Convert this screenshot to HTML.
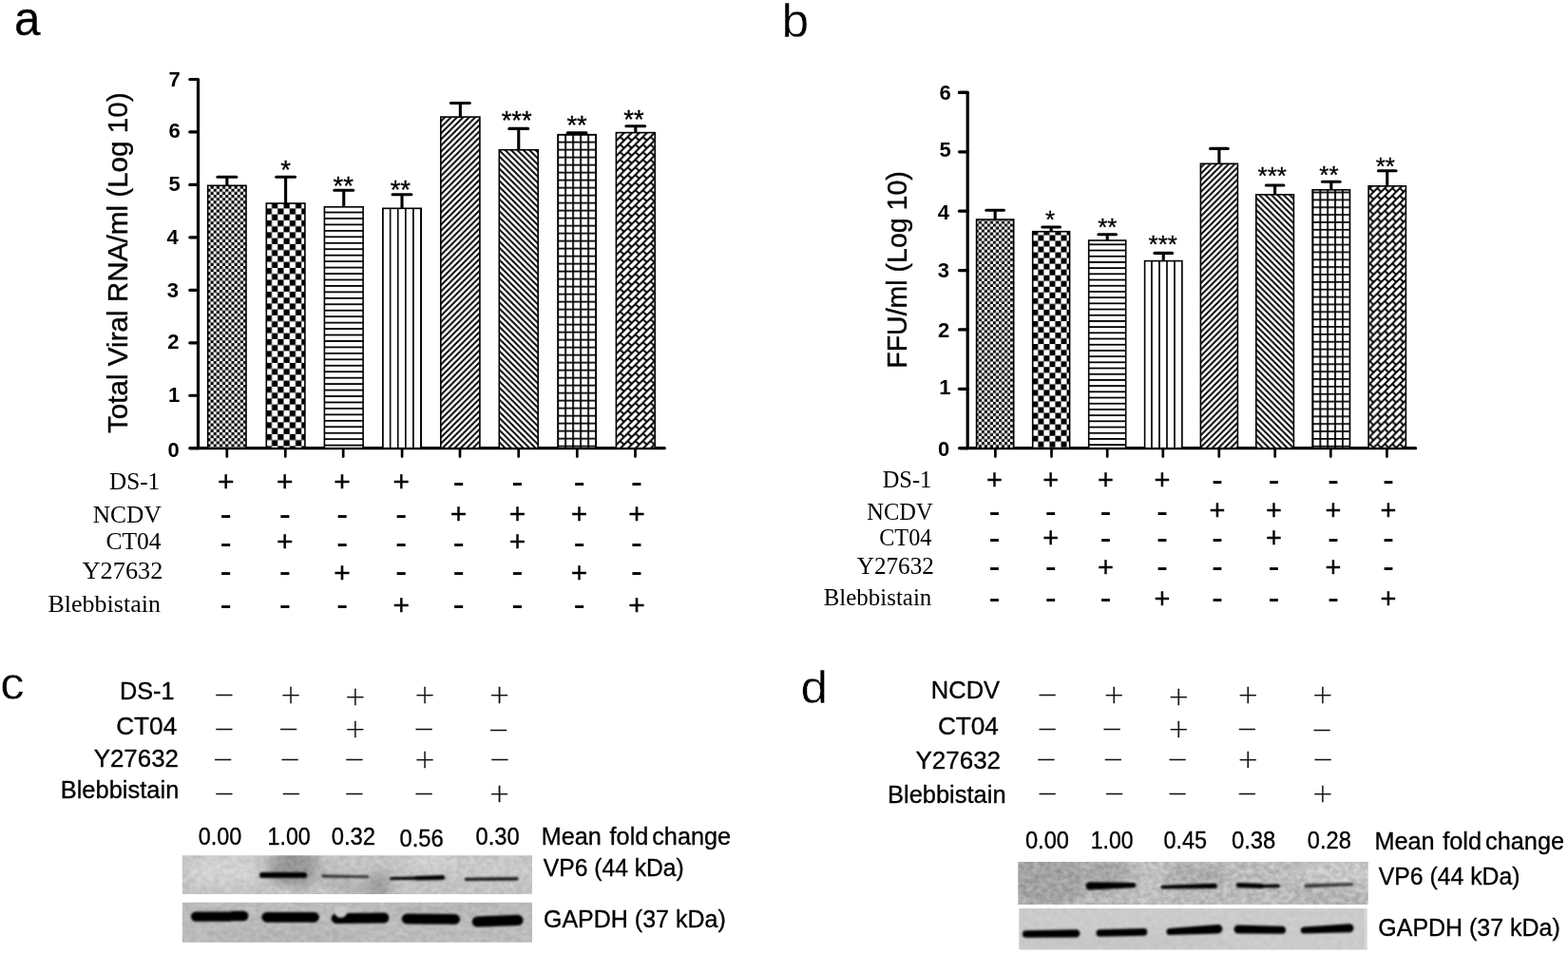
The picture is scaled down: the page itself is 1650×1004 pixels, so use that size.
<!DOCTYPE html>
<html lang="en"><head><meta charset="utf-8"><title>Figure</title>
<style>
html,body{margin:0;padding:0;background:#fff;}
body{width:1650px;height:1004px;overflow:hidden;}
svg{display:block;}
.ax{stroke:#000;stroke-width:3.2;fill:none;}
.xt{stroke:#000;stroke-width:2.7;fill:none;}
.eb{stroke:#000;stroke-width:3.1;fill:none;}
.sa{font-family:"Liberation Sans",Arial,Helvetica,sans-serif;fill:#000;}
.hv{stroke:#000;stroke-width:0.35px;}
.sb{font-family:"Liberation Sans",Arial,Helvetica,sans-serif;font-weight:bold;fill:#000;}
.se{font-family:"Liberation Serif","Times New Roman",Times,serif;fill:#000;}
.li{font-family:"DejaVu Sans Light","DejaVu Sans","Liberation Sans",sans-serif;font-weight:200;fill:#111;}
</style></head><body>
<svg width="1650" height="1004" viewBox="0 0 1650 1004">
<defs>
<pattern id="p1" x="-0.3" y="-1.3" width="6.25" height="6.25" patternUnits="userSpaceOnUse"><rect width="6.25" height="6.25" fill="#fff"/><rect width="3.12" height="3.12" fill="#000"/><rect x="3.12" y="3.12" width="3.12" height="3.12" fill="#000"/></pattern>
<pattern id="p2" x="4.75" y="6.9" width="12.5" height="12.5" patternUnits="userSpaceOnUse"><rect width="12.5" height="12.5" fill="#fff"/><rect width="6.25" height="6.25" fill="#000"/><rect x="6.25" y="6.25" width="6.25" height="6.25" fill="#000"/></pattern>
<pattern id="p3" x="0" y="3.3" width="10" height="6.45" patternUnits="userSpaceOnUse"><rect width="10" height="6.45" fill="#fff"/><rect width="10" height="1.8" fill="#000"/></pattern>
<pattern id="p4" x="4.8" y="0" width="8.1" height="10" patternUnits="userSpaceOnUse"><rect width="8.1" height="10" fill="#fff"/><rect width="1.6" height="10" fill="#000"/></pattern>
<pattern id="p5" x="2.8" y="0" width="6.4" height="6.4" patternUnits="userSpaceOnUse"><rect width="6.4" height="6.4" fill="#fff"/><path d="M-6.4 6.4L6.4 -6.4M-1 7.4L7.4 -1M0 12.8L12.8 0" stroke="#000" stroke-width="1.95"/></pattern>
<pattern id="p6" x="2.4" y="0" width="6.4" height="6.4" patternUnits="userSpaceOnUse"><rect width="6.4" height="6.4" fill="#fff"/><path d="M-1 -1L7.4 7.4M0 -6.4L12.8 6.4M-6.4 0L6.4 12.8" stroke="#000" stroke-width="1.95"/></pattern>
<pattern id="p7" x="2.2" y="4.7" width="8" height="8" patternUnits="userSpaceOnUse"><rect width="8" height="8" fill="#fff"/><path d="M0 0.9H8M0.9 0V8" stroke="#000" stroke-width="1.8"/></pattern>
<pattern id="p8" x="4.6" y="0" width="8" height="8" patternUnits="userSpaceOnUse"><rect width="8" height="8" fill="#fff"/><path d="M-1 9L9 -1M-1 1L1 -1M7 9L9 7" stroke="#000" stroke-width="1.95"/><path d="M0 0L4 4M8 8L12 12" stroke="#000" stroke-width="1.9"/></pattern>
<pattern id="q1" x="0" y="0" width="6.04" height="6.04" patternUnits="userSpaceOnUse"><rect width="6.04" height="6.04" fill="#fff"/><rect width="3.02" height="3.02" fill="#000"/><rect x="3.02" y="3.02" width="3.02" height="3.02" fill="#000"/></pattern>
<pattern id="q2" x="0" y="0" width="12.07" height="12.07" patternUnits="userSpaceOnUse"><rect width="12.07" height="12.07" fill="#fff"/><rect width="6.04" height="6.04" fill="#000"/><rect x="6.04" y="6.04" width="6.04" height="6.04" fill="#000"/></pattern>
<pattern id="q3" x="0" y="2.23" width="10" height="6.2" patternUnits="userSpaceOnUse"><rect width="10" height="6.2" fill="#fff"/><rect width="10" height="1.8" fill="#000"/></pattern>
<pattern id="q4" x="0.13" y="0" width="8.02" height="10" patternUnits="userSpaceOnUse"><rect width="8.02" height="10" fill="#fff"/><rect width="1.6" height="10" fill="#000"/></pattern>
<pattern id="q5" x="0" y="0" width="6.4" height="6.4" patternUnits="userSpaceOnUse"><rect width="6.4" height="6.4" fill="#fff"/><path d="M-6.4 6.4L6.4 -6.4M-1 7.4L7.4 -1M0 12.8L12.8 0" stroke="#000" stroke-width="1.95"/></pattern>
<pattern id="q6" x="0" y="0" width="6.4" height="6.4" patternUnits="userSpaceOnUse"><rect width="6.4" height="6.4" fill="#fff"/><path d="M-1 -1L7.4 7.4M0 -6.4L12.8 6.4M-6.4 0L6.4 12.8" stroke="#000" stroke-width="1.95"/></pattern>
<pattern id="q7" x="5.04" y="5.1" width="7.86" height="7.86" patternUnits="userSpaceOnUse"><rect width="7.86" height="7.86" fill="#fff"/><path d="M0 0.9H7.86M0.9 0V7.86" stroke="#000" stroke-width="1.8"/></pattern>
<pattern id="q8" x="0" y="0" width="7.92" height="7.92" patternUnits="userSpaceOnUse"><rect width="7.92" height="7.92" fill="#fff"/><path d="M-1 8.92L8.92 -1M-1 1L1 -1M6.92 8.92L8.92 6.92" stroke="#000" stroke-width="1.95"/><path d="M0 0L3.96 3.96M7.92 7.92L11.88 11.88" stroke="#000" stroke-width="1.9"/></pattern>
<filter id="b1" x="-20%" y="-100%" width="140%" height="300%"><feGaussianBlur stdDeviation="0.9"/></filter>
<filter id="b8" x="-50%" y="-50%" width="200%" height="200%"><feGaussianBlur stdDeviation="6"/></filter>
<clipPath id="c1"><rect x="191.9" y="900.2" width="368.1" height="40.9"/></clipPath>
<filter id="nz1" filterUnits="userSpaceOnUse" x="189.9" y="898.2" width="372.1" height="44.9" color-interpolation-filters="sRGB"><feTurbulence type="fractalNoise" baseFrequency="0.16 0.2" numOctaves="3" seed="4" result="n"/><feColorMatrix in="n" type="matrix" values="1.6 0 0 0 -0.3 1.6 0 0 0 -0.3 1.6 0 0 0 -0.3 0 0 0 0 1" result="g"/><feComposite in="SourceGraphic" in2="g" operator="arithmetic" k1="0" k2="1" k3="0.09" k4="-0.045"/></filter>
<clipPath id="c2"><rect x="191.9" y="949.8" width="368.1" height="41.9"/></clipPath>
<filter id="nz2" filterUnits="userSpaceOnUse" x="189.9" y="947.8" width="372.1" height="45.9" color-interpolation-filters="sRGB"><feTurbulence type="fractalNoise" baseFrequency="0.16 0.2" numOctaves="3" seed="5" result="n"/><feColorMatrix in="n" type="matrix" values="1.6 0 0 0 -0.3 1.6 0 0 0 -0.3 1.6 0 0 0 -0.3 0 0 0 0 1" result="g"/><feComposite in="SourceGraphic" in2="g" operator="arithmetic" k1="0" k2="1" k3="0.08" k4="-0.04"/></filter>
<clipPath id="c3"><rect x="1071.3" y="907" width="368.4" height="44.9"/></clipPath>
<filter id="nz3" filterUnits="userSpaceOnUse" x="1069.3" y="905" width="372.4" height="48.9" color-interpolation-filters="sRGB"><feTurbulence type="fractalNoise" baseFrequency="0.16 0.2" numOctaves="3" seed="6" result="n"/><feColorMatrix in="n" type="matrix" values="1.6 0 0 0 -0.3 1.6 0 0 0 -0.3 1.6 0 0 0 -0.3 0 0 0 0 1" result="g"/><feComposite in="SourceGraphic" in2="g" operator="arithmetic" k1="0" k2="1" k3="0.15" k4="-0.075"/></filter>
<clipPath id="c4"><rect x="1072.3" y="956" width="366.2" height="43.6"/></clipPath>
<filter id="nz4" filterUnits="userSpaceOnUse" x="1070.3" y="954" width="370.2" height="47.6" color-interpolation-filters="sRGB"><feTurbulence type="fractalNoise" baseFrequency="0.16 0.2" numOctaves="3" seed="7" result="n"/><feColorMatrix in="n" type="matrix" values="1.6 0 0 0 -0.3 1.6 0 0 0 -0.3 1.6 0 0 0 -0.3 0 0 0 0 1" result="g"/><feComposite in="SourceGraphic" in2="g" operator="arithmetic" k1="0" k2="1" k3="0.04" k4="-0.02"/></filter>
</defs>
<rect width="1650" height="1004" fill="#fff"/>

<text x="14.9" y="37" class="sa" font-size="49.3" stroke="#000" stroke-width="0.3">a</text>
<text transform="translate(822.55 38.6) scale(1.0458 1)" class="sa" font-size="49.3" stroke="#fff" stroke-width="0.4">b</text>
<text transform="translate(0.25 736.2) scale(1.0432 1)" class="sa" font-size="48.6" stroke="#fff" stroke-width="0.4">c</text>
<text transform="translate(842.62 740) scale(1.0476 1)" class="sa" font-size="49" stroke="#fff" stroke-width="0.4">d</text>
<g id="panel-a">
<path d="M199.8 83.5H208.5V471.7" class="ax" stroke-linejoin="round" stroke-linecap="round"/>
<line x1="200.7" y1="471.7" x2="699.3" y2="471.7" class="ax" stroke-linecap="round"/>
<line x1="199.8" y1="138.96" x2="208.5" y2="138.96" class="ax" stroke-linecap="round"/>
<line x1="199.8" y1="194.41" x2="208.5" y2="194.41" class="ax" stroke-linecap="round"/>
<line x1="199.8" y1="249.87" x2="208.5" y2="249.87" class="ax" stroke-linecap="round"/>
<line x1="199.8" y1="305.33" x2="208.5" y2="305.33" class="ax" stroke-linecap="round"/>
<line x1="199.8" y1="360.79" x2="208.5" y2="360.79" class="ax" stroke-linecap="round"/>
<line x1="199.8" y1="416.24" x2="208.5" y2="416.24" class="ax" stroke-linecap="round"/>
<line x1="199.8" y1="471.7" x2="208.5" y2="471.7" class="ax" stroke-linecap="round"/>
<text x="177.53" y="90.86" class="sb" font-size="22">7</text>
<text x="177.56" y="144.96" class="sb" font-size="22">6</text>
<text x="177.4" y="201.35" class="sb" font-size="22">5</text>
<text x="175.4" y="256.76" class="sb" font-size="22">4</text>
<text x="175.86" y="312.64" class="sb" font-size="22">3</text>
<text x="176.17" y="367.17" class="sb" font-size="22">2</text>
<text x="177.09" y="423.26" class="sb" font-size="22">1</text>
<text x="176.47" y="480.56" class="sb" font-size="22">0</text>
<line x1="238.8" y1="471.7" x2="238.8" y2="480.6" class="xt" stroke-linecap="round"/>
<rect x="218.7" y="195.3" width="40.3" height="276.4" fill="url(#p1)" stroke="#000" stroke-width="1.6"/>
<line x1="238.85" y1="186.2" x2="238.85" y2="195.5" class="eb"/>
<line x1="228.95" y1="186.2" x2="248.75" y2="186.2" class="eb" stroke-linecap="round"/>
<line x1="300.3" y1="471.7" x2="300.3" y2="480.6" class="xt" stroke-linecap="round"/>
<rect x="280.3" y="214" width="40.6" height="257.7" fill="url(#p2)" stroke="#000" stroke-width="1.6"/>
<line x1="300.6" y1="186.2" x2="300.6" y2="214.2" class="eb"/>
<line x1="290.7" y1="186.2" x2="310.5" y2="186.2" class="eb" stroke-linecap="round"/>
<line x1="361.2" y1="471.7" x2="361.2" y2="480.6" class="xt" stroke-linecap="round"/>
<rect x="341.4" y="217.8" width="40.7" height="253.9" fill="url(#p3)" stroke="#000" stroke-width="1.6"/>
<line x1="361.75" y1="200.2" x2="361.75" y2="218" class="eb"/>
<line x1="351.85" y1="200.2" x2="371.65" y2="200.2" class="eb" stroke-linecap="round"/>
<line x1="423.1" y1="471.7" x2="423.1" y2="480.6" class="xt" stroke-linecap="round"/>
<rect x="402.8" y="219.3" width="40.4" height="252.4" fill="url(#p4)" stroke="#000" stroke-width="1.6"/>
<line x1="423" y1="204.7" x2="423" y2="219.5" class="eb"/>
<line x1="413.1" y1="204.7" x2="432.9" y2="204.7" class="eb" stroke-linecap="round"/>
<line x1="484" y1="471.7" x2="484" y2="480.6" class="xt" stroke-linecap="round"/>
<rect x="463.8" y="123.1" width="41.1" height="348.6" fill="url(#p5)" stroke="#000" stroke-width="1.6"/>
<line x1="484.35" y1="108.5" x2="484.35" y2="123.3" class="eb"/>
<line x1="474.45" y1="108.5" x2="494.25" y2="108.5" class="eb" stroke-linecap="round"/>
<line x1="545.7" y1="471.7" x2="545.7" y2="480.6" class="xt" stroke-linecap="round"/>
<rect x="525.3" y="157.7" width="40.9" height="314" fill="url(#p6)" stroke="#000" stroke-width="1.6"/>
<line x1="545.75" y1="135.4" x2="545.75" y2="157.9" class="eb"/>
<line x1="535.85" y1="135.4" x2="555.65" y2="135.4" class="eb" stroke-linecap="round"/>
<line x1="607.3" y1="471.7" x2="607.3" y2="480.6" class="xt" stroke-linecap="round"/>
<rect x="587" y="141.7" width="40.2" height="330" fill="url(#p7)" stroke="#000" stroke-width="1.6"/>
<line x1="607.1" y1="139.9" x2="607.1" y2="141.9" class="eb"/>
<line x1="597.2" y1="139.9" x2="617" y2="139.9" class="eb" stroke-linecap="round"/>
<line x1="668.5" y1="471.7" x2="668.5" y2="480.6" class="xt" stroke-linecap="round"/>
<rect x="648.4" y="139.6" width="40.8" height="332.1" fill="url(#p8)" stroke="#000" stroke-width="1.6"/>
<line x1="668.8" y1="132.7" x2="668.8" y2="139.8" class="eb"/>
<line x1="658.9" y1="132.7" x2="678.7" y2="132.7" class="eb" stroke-linecap="round"/>
<text x="295.34" y="187.79" class="sa" font-size="27.5" stroke="#000" stroke-width="0.3">*</text>
<text x="350.47" y="205.19" class="sa" font-size="27.5" stroke="#000" stroke-width="0.3">**</text>
<text x="410.67" y="208.59" class="sa" font-size="27.5" stroke="#000" stroke-width="0.3">**</text>
<text x="527.65" y="136.49" class="sa" font-size="27.5" stroke="#000" stroke-width="0.3">***</text>
<text x="596.38" y="140.89" class="sa" font-size="27.5" stroke="#000" stroke-width="0.3">**</text>
<text x="656.27" y="134.69" class="sa" font-size="27.5" stroke="#000" stroke-width="0.3">**</text>
<text transform="translate(134.2 456.07) rotate(-90) scale(0.9887 1)" class="sa" font-size="30" stroke="#000" stroke-width="0.35">Total Viral RNA/ml (Log 10)</text>
<text transform="translate(115.04 514.7) scale(0.9680 1)" class="se" font-size="26" >DS-1</text>
<text x="228.92" y="516.58" class="sa" font-size="30" stroke="#000" stroke-width="0.35">+</text>
<text x="291.12" y="516.58" class="sa" font-size="30" stroke="#000" stroke-width="0.35">+</text>
<text x="351.33" y="516.58" class="sa" font-size="30" stroke="#000" stroke-width="0.35">+</text>
<text x="413.43" y="516.58" class="sa" font-size="30" stroke="#000" stroke-width="0.35">+</text>
<text x="476.45" y="519.45" class="sa" font-size="37" >-</text>
<text x="538.35" y="519.45" class="sa" font-size="37" >-</text>
<text x="603.45" y="519.45" class="sa" font-size="37" >-</text>
<text x="663.85" y="519.45" class="sa" font-size="37" >-</text>
<text transform="translate(97.74 549.6) scale(0.9779 1)" class="se" font-size="26" >NCDV</text>
<text x="231.55" y="553.25" class="sa" font-size="37" >-</text>
<text x="293.75" y="553.25" class="sa" font-size="37" >-</text>
<text x="353.95" y="553.25" class="sa" font-size="37" >-</text>
<text x="416.05" y="553.25" class="sa" font-size="37" >-</text>
<text x="473.83" y="550.68" class="sa" font-size="30" stroke="#000" stroke-width="0.35">+</text>
<text x="535.73" y="550.68" class="sa" font-size="30" stroke="#000" stroke-width="0.35">+</text>
<text x="600.83" y="550.68" class="sa" font-size="30" stroke="#000" stroke-width="0.35">+</text>
<text x="661.23" y="550.68" class="sa" font-size="30" stroke="#000" stroke-width="0.35">+</text>
<text transform="translate(111.38 578.3) scale(0.9812 1)" class="se" font-size="26" >CT04</text>
<text x="231.55" y="582.65" class="sa" font-size="37" >-</text>
<text x="291.12" y="579.98" class="sa" font-size="30" stroke="#000" stroke-width="0.35">+</text>
<text x="353.95" y="582.65" class="sa" font-size="37" >-</text>
<text x="416.05" y="582.65" class="sa" font-size="37" >-</text>
<text x="476.45" y="582.65" class="sa" font-size="37" >-</text>
<text x="535.73" y="579.98" class="sa" font-size="30" stroke="#000" stroke-width="0.35">+</text>
<text x="603.45" y="582.65" class="sa" font-size="37" >-</text>
<text x="663.85" y="582.65" class="sa" font-size="37" >-</text>
<text transform="translate(86.57 608.9) scale(1.0130 1)" class="se" font-size="26" >Y27632</text>
<text x="231.55" y="613.45" class="sa" font-size="37" >-</text>
<text x="293.75" y="613.45" class="sa" font-size="37" >-</text>
<text x="351.33" y="612.58" class="sa" font-size="30" stroke="#000" stroke-width="0.35">+</text>
<text x="416.05" y="613.45" class="sa" font-size="37" >-</text>
<text x="476.45" y="613.45" class="sa" font-size="37" >-</text>
<text x="538.35" y="613.45" class="sa" font-size="37" >-</text>
<text x="600.83" y="612.58" class="sa" font-size="30" stroke="#000" stroke-width="0.35">+</text>
<text x="663.85" y="613.45" class="sa" font-size="37" >-</text>
<text x="50.52" y="643.8" class="se" font-size="26" >Blebbistain</text>
<text x="231.55" y="647.75" class="sa" font-size="37" >-</text>
<text x="293.75" y="647.75" class="sa" font-size="37" >-</text>
<text x="353.95" y="647.75" class="sa" font-size="37" >-</text>
<text x="413.43" y="646.77" class="sa" font-size="30" stroke="#000" stroke-width="0.35">+</text>
<text x="476.45" y="647.75" class="sa" font-size="37" >-</text>
<text x="538.35" y="647.75" class="sa" font-size="37" >-</text>
<text x="603.45" y="647.75" class="sa" font-size="37" >-</text>
<text x="661.23" y="646.77" class="sa" font-size="30" stroke="#000" stroke-width="0.35">+</text>
</g>
<g id="panel-b">
<path d="M1009.5 97.4H1018.2V471.7" class="ax" stroke-linejoin="round" stroke-linecap="round"/>
<line x1="1010.5" y1="471.7" x2="1489.6" y2="471.7" class="ax" stroke-linecap="round"/>
<line x1="1009.5" y1="97.4" x2="1018.2" y2="97.4" class="ax" stroke-linecap="round"/>
<line x1="1009.5" y1="159.78" x2="1018.2" y2="159.78" class="ax" stroke-linecap="round"/>
<line x1="1009.5" y1="222.17" x2="1018.2" y2="222.17" class="ax" stroke-linecap="round"/>
<line x1="1009.5" y1="284.55" x2="1018.2" y2="284.55" class="ax" stroke-linecap="round"/>
<line x1="1009.5" y1="346.93" x2="1018.2" y2="346.93" class="ax" stroke-linecap="round"/>
<line x1="1009.5" y1="409.32" x2="1018.2" y2="409.32" class="ax" stroke-linecap="round"/>
<line x1="1009.5" y1="471.7" x2="1018.2" y2="471.7" class="ax" stroke-linecap="round"/>
<text x="988.56" y="105.16" class="sb" font-size="22">6</text>
<text x="988.39" y="165.05" class="sb" font-size="22">5</text>
<text x="986.8" y="231.36" class="sb" font-size="22">4</text>
<text x="986.86" y="291.84" class="sb" font-size="22">3</text>
<text x="986.97" y="354.67" class="sb" font-size="22">2</text>
<text x="988.29" y="414.86" class="sb" font-size="22">1</text>
<text x="987.07" y="480.26" class="sb" font-size="22">0</text>
<line x1="1047.4" y1="471.7" x2="1047.4" y2="480.6" class="xt" stroke-linecap="round"/>
<rect x="1027.6" y="231" width="39.1" height="240.7" fill="url(#q1)" stroke="#000" stroke-width="1.6"/>
<line x1="1047.15" y1="221.3" x2="1047.15" y2="231.2" class="eb"/>
<line x1="1037.85" y1="221.3" x2="1056.45" y2="221.3" class="eb" stroke-linecap="round"/>
<line x1="1106.5" y1="471.7" x2="1106.5" y2="480.6" class="xt" stroke-linecap="round"/>
<rect x="1086.7" y="243.7" width="38.9" height="228" fill="url(#q2)" stroke="#000" stroke-width="1.6"/>
<line x1="1106.15" y1="239" x2="1106.15" y2="243.9" class="eb"/>
<line x1="1096.85" y1="239" x2="1115.45" y2="239" class="eb" stroke-linecap="round"/>
<line x1="1165.2" y1="471.7" x2="1165.2" y2="480.6" class="xt" stroke-linecap="round"/>
<rect x="1145.7" y="253" width="39" height="218.7" fill="url(#q3)" stroke="#000" stroke-width="1.6"/>
<line x1="1165.2" y1="246.7" x2="1165.2" y2="253.2" class="eb"/>
<line x1="1155.9" y1="246.7" x2="1174.5" y2="246.7" class="eb" stroke-linecap="round"/>
<line x1="1223.8" y1="471.7" x2="1223.8" y2="480.6" class="xt" stroke-linecap="round"/>
<rect x="1204.6" y="274.6" width="39.3" height="197.1" fill="url(#q4)" stroke="#000" stroke-width="1.6"/>
<line x1="1224.25" y1="266.4" x2="1224.25" y2="274.8" class="eb"/>
<line x1="1214.95" y1="266.4" x2="1233.55" y2="266.4" class="eb" stroke-linecap="round"/>
<line x1="1282.8" y1="471.7" x2="1282.8" y2="480.6" class="xt" stroke-linecap="round"/>
<rect x="1263.4" y="172.3" width="39" height="299.4" fill="url(#q5)" stroke="#000" stroke-width="1.6"/>
<line x1="1282.9" y1="156.4" x2="1282.9" y2="172.5" class="eb"/>
<line x1="1273.6" y1="156.4" x2="1292.2" y2="156.4" class="eb" stroke-linecap="round"/>
<line x1="1341.7" y1="471.7" x2="1341.7" y2="480.6" class="xt" stroke-linecap="round"/>
<rect x="1321.8" y="204.8" width="39.6" height="266.9" fill="url(#q6)" stroke="#000" stroke-width="1.6"/>
<line x1="1341.6" y1="195" x2="1341.6" y2="205" class="eb"/>
<line x1="1332.3" y1="195" x2="1350.9" y2="195" class="eb" stroke-linecap="round"/>
<line x1="1400.3" y1="471.7" x2="1400.3" y2="480.6" class="xt" stroke-linecap="round"/>
<rect x="1381.1" y="199.8" width="39.4" height="271.9" fill="url(#q7)" stroke="#000" stroke-width="1.6"/>
<line x1="1400.8" y1="191.3" x2="1400.8" y2="200" class="eb"/>
<line x1="1391.5" y1="191.3" x2="1410.1" y2="191.3" class="eb" stroke-linecap="round"/>
<line x1="1459.4" y1="471.7" x2="1459.4" y2="480.6" class="xt" stroke-linecap="round"/>
<rect x="1440.1" y="195.8" width="39.3" height="275.9" fill="url(#q8)" stroke="#000" stroke-width="1.6"/>
<line x1="1459.75" y1="179.8" x2="1459.75" y2="196" class="eb"/>
<line x1="1450.45" y1="179.8" x2="1469.05" y2="179.8" class="eb" stroke-linecap="round"/>
<text x="1099.93" y="239.62" class="sa" font-size="26" stroke="#000" stroke-width="0.3">*</text>
<text x="1155.16" y="248.02" class="sa" font-size="26" stroke="#000" stroke-width="0.3">**</text>
<text x="1208.62" y="265.52" class="sa" font-size="26" stroke="#000" stroke-width="0.3">***</text>
<text x="1323.52" y="194.22" class="sa" font-size="26" stroke="#000" stroke-width="0.3">***</text>
<text x="1388.36" y="193.12" class="sa" font-size="26" stroke="#000" stroke-width="0.3">**</text>
<text x="1447.76" y="184.02" class="sa" font-size="26" stroke="#000" stroke-width="0.3">**</text>
<text transform="translate(954.3 387.75) rotate(-90) scale(0.9734 1)" class="sa" font-size="29.3" stroke="#000" stroke-width="0.35">FFU/ml (Log 10)</text>
<text transform="translate(928.67 513.3) scale(0.9654 1)" class="se" font-size="25.3" >DS-1</text>
<text x="1038.02" y="514.84" class="sa" font-size="29" stroke="#000" stroke-width="0.35">+</text>
<text x="1097.22" y="514.84" class="sa" font-size="29" stroke="#000" stroke-width="0.35">+</text>
<text x="1155.12" y="514.84" class="sa" font-size="29" stroke="#000" stroke-width="0.35">+</text>
<text x="1214.62" y="514.84" class="sa" font-size="29" stroke="#000" stroke-width="0.35">+</text>
<text x="1275.12" y="517.49" class="sa" font-size="36" >-</text>
<text x="1334.42" y="517.49" class="sa" font-size="36" >-</text>
<text x="1397.02" y="517.49" class="sa" font-size="36" >-</text>
<text x="1454.92" y="517.49" class="sa" font-size="36" >-</text>
<text transform="translate(912.37 546.5) scale(0.9681 1)" class="se" font-size="25.3" >NCDV</text>
<text x="1040.52" y="550.19" class="sa" font-size="36" >-</text>
<text x="1099.72" y="550.19" class="sa" font-size="36" >-</text>
<text x="1157.62" y="550.19" class="sa" font-size="36" >-</text>
<text x="1217.12" y="550.19" class="sa" font-size="36" >-</text>
<text x="1272.62" y="547.44" class="sa" font-size="29" stroke="#000" stroke-width="0.35">+</text>
<text x="1331.92" y="547.44" class="sa" font-size="29" stroke="#000" stroke-width="0.35">+</text>
<text x="1394.52" y="547.44" class="sa" font-size="29" stroke="#000" stroke-width="0.35">+</text>
<text x="1452.42" y="547.44" class="sa" font-size="29" stroke="#000" stroke-width="0.35">+</text>
<text transform="translate(925.23 574.3) scale(0.9568 1)" class="se" font-size="25.3" >CT04</text>
<text x="1040.52" y="578.19" class="sa" font-size="36" >-</text>
<text x="1097.22" y="575.74" class="sa" font-size="29" stroke="#000" stroke-width="0.35">+</text>
<text x="1157.62" y="578.19" class="sa" font-size="36" >-</text>
<text x="1217.12" y="578.19" class="sa" font-size="36" >-</text>
<text x="1275.12" y="578.19" class="sa" font-size="36" >-</text>
<text x="1331.92" y="575.74" class="sa" font-size="29" stroke="#000" stroke-width="0.35">+</text>
<text x="1397.02" y="578.19" class="sa" font-size="36" >-</text>
<text x="1454.92" y="578.19" class="sa" font-size="36" >-</text>
<text transform="translate(901.69 604.3) scale(0.9960 1)" class="se" font-size="25.3" >Y27632</text>
<text x="1040.52" y="608.29" class="sa" font-size="36" >-</text>
<text x="1099.72" y="608.29" class="sa" font-size="36" >-</text>
<text x="1155.12" y="606.84" class="sa" font-size="29" stroke="#000" stroke-width="0.35">+</text>
<text x="1217.12" y="608.29" class="sa" font-size="36" >-</text>
<text x="1275.12" y="608.29" class="sa" font-size="36" >-</text>
<text x="1334.42" y="608.29" class="sa" font-size="36" >-</text>
<text x="1394.52" y="606.84" class="sa" font-size="29" stroke="#000" stroke-width="0.35">+</text>
<text x="1454.92" y="608.29" class="sa" font-size="36" >-</text>
<text transform="translate(866.65 636.8) scale(0.9868 1)" class="se" font-size="25.3" >Blebbistain</text>
<text x="1040.52" y="640.79" class="sa" font-size="36" >-</text>
<text x="1099.72" y="640.79" class="sa" font-size="36" >-</text>
<text x="1157.62" y="640.79" class="sa" font-size="36" >-</text>
<text x="1214.62" y="639.94" class="sa" font-size="29" stroke="#000" stroke-width="0.35">+</text>
<text x="1275.12" y="640.79" class="sa" font-size="36" >-</text>
<text x="1334.42" y="640.79" class="sa" font-size="36" >-</text>
<text x="1397.02" y="640.79" class="sa" font-size="36" >-</text>
<text x="1452.42" y="639.94" class="sa" font-size="29" stroke="#000" stroke-width="0.35">+</text>
</g>
<g id="panel-c" class="hv">
<text transform="translate(126.01 736) scale(0.9651 1)" class="sa" font-size="26.2" >DS-1</text>
<text x="122.19" y="773.3" class="sa" font-size="26.2" >CT04</text>
<text transform="translate(98.72 806.5) scale(0.9884 1)" class="sa" font-size="26.2" >Y27632</text>
<text transform="translate(63.7 840) scale(0.9730 1)" class="sa" font-size="26.2" >Blebbistain</text>
<text x="224.48" y="740.14" class="li" font-size="27" fill="#111" stroke="#111" stroke-width="0.3">−</text>
<text x="294.74" y="740.11" class="li" font-size="27" fill="#111" stroke="#111" stroke-width="0.3">+</text>
<text x="362.6" y="741.64" class="li" font-size="27" fill="#111" stroke="#111" stroke-width="0.3">+</text>
<text x="435.69" y="740.11" class="li" font-size="27" fill="#111" stroke="#111" stroke-width="0.3">+</text>
<text x="514.24" y="740.11" class="li" font-size="27" fill="#111" stroke="#111" stroke-width="0.3">+</text>
<text x="224.48" y="776.15" class="li" font-size="27" fill="#111" stroke="#111" stroke-width="0.3">−</text>
<text x="292.34" y="776.15" class="li" font-size="27" fill="#111" stroke="#111" stroke-width="0.3">−</text>
<text x="362.6" y="776.11" class="li" font-size="27" fill="#111" stroke="#111" stroke-width="0.3">+</text>
<text x="434.82" y="776.15" class="li" font-size="27" fill="#111" stroke="#111" stroke-width="0.3">−</text>
<text x="513.37" y="777.46" class="li" font-size="27" fill="#111" stroke="#111" stroke-width="0.3">−</text>
<text x="223.17" y="808.22" class="li" font-size="27" fill="#111" stroke="#111" stroke-width="0.3">−</text>
<text x="293.65" y="808.22" class="li" font-size="27" fill="#111" stroke="#111" stroke-width="0.3">−</text>
<text x="361.51" y="808.22" class="li" font-size="27" fill="#111" stroke="#111" stroke-width="0.3">−</text>
<text x="435.69" y="808.19" class="li" font-size="27" fill="#111" stroke="#111" stroke-width="0.3">+</text>
<text x="514.46" y="808.22" class="li" font-size="27" fill="#111" stroke="#111" stroke-width="0.3">−</text>
<text x="224.48" y="844.01" class="li" font-size="27" fill="#111" stroke="#111" stroke-width="0.3">−</text>
<text x="294.96" y="844.01" class="li" font-size="27" fill="#111" stroke="#111" stroke-width="0.3">−</text>
<text x="361.51" y="844.01" class="li" font-size="27" fill="#111" stroke="#111" stroke-width="0.3">−</text>
<text x="434.82" y="844.01" class="li" font-size="27" fill="#111" stroke="#111" stroke-width="0.3">−</text>
<text x="514.24" y="843.97" class="li" font-size="27" fill="#111" stroke="#111" stroke-width="0.3">+</text>
<text transform="translate(208.66 889.3) scale(0.9141 1)" class="sa" font-size="25.6" >0.00</text>
<text transform="translate(281.56 889.3) scale(0.9081 1)" class="sa" font-size="25.6" >1.00</text>
<text transform="translate(348.65 889.3) scale(0.9308 1)" class="sa" font-size="25.6" >0.32</text>
<text transform="translate(420.55 890.7) scale(0.9270 1)" class="sa" font-size="25.6" >0.56</text>
<text transform="translate(500.45 888.9) scale(0.9287 1)" class="sa" font-size="25.6" >0.30</text>
<text transform="translate(0 889.3) scale(0.9644 1)" class="sa" font-size="26.2"><tspan x="590.7">Mean</tspan> <tspan x="665.27">fold</tspan> <tspan x="711.56">change</tspan></text>
<text transform="translate(571.78 922.1) scale(0.9415 1)" class="sa" font-size="26.2" >VP6 (44 kDa)</text>
<text transform="translate(571.95 975.8) scale(0.9548 1)" class="sa" font-size="26.2" >GAPDH (37 kDa)</text>
</g>
<g id="panel-d" class="hv">
<text transform="translate(979.8 734.8) scale(0.9738 1)" class="sa" font-size="26.2" >NCDV</text>
<text x="986.89" y="773.3" class="sa" font-size="26.2" >CT04</text>
<text transform="translate(963.52 809.4) scale(0.9918 1)" class="sa" font-size="26.2" >Y27632</text>
<text transform="translate(934 845.1) scale(0.9722 1)" class="sa" font-size="26.2" >Blebbistain</text>
<text x="1090.78" y="740.14" class="li" font-size="27" fill="#111" stroke="#111" stroke-width="0.3">−</text>
<text x="1161.04" y="740.11" class="li" font-size="27" fill="#111" stroke="#111" stroke-width="0.3">+</text>
<text x="1228.9" y="741.64" class="li" font-size="27" fill="#111" stroke="#111" stroke-width="0.3">+</text>
<text x="1301.99" y="740.11" class="li" font-size="27" fill="#111" stroke="#111" stroke-width="0.3">+</text>
<text x="1380.54" y="740.11" class="li" font-size="27" fill="#111" stroke="#111" stroke-width="0.3">+</text>
<text x="1090.78" y="776.15" class="li" font-size="27" fill="#111" stroke="#111" stroke-width="0.3">−</text>
<text x="1158.64" y="776.15" class="li" font-size="27" fill="#111" stroke="#111" stroke-width="0.3">−</text>
<text x="1228.9" y="776.11" class="li" font-size="27" fill="#111" stroke="#111" stroke-width="0.3">+</text>
<text x="1301.12" y="776.15" class="li" font-size="27" fill="#111" stroke="#111" stroke-width="0.3">−</text>
<text x="1379.67" y="777.46" class="li" font-size="27" fill="#111" stroke="#111" stroke-width="0.3">−</text>
<text x="1089.47" y="808.22" class="li" font-size="27" fill="#111" stroke="#111" stroke-width="0.3">−</text>
<text x="1159.95" y="808.22" class="li" font-size="27" fill="#111" stroke="#111" stroke-width="0.3">−</text>
<text x="1227.81" y="808.22" class="li" font-size="27" fill="#111" stroke="#111" stroke-width="0.3">−</text>
<text x="1301.99" y="808.19" class="li" font-size="27" fill="#111" stroke="#111" stroke-width="0.3">+</text>
<text x="1380.76" y="808.22" class="li" font-size="27" fill="#111" stroke="#111" stroke-width="0.3">−</text>
<text x="1090.78" y="844.01" class="li" font-size="27" fill="#111" stroke="#111" stroke-width="0.3">−</text>
<text x="1161.26" y="844.01" class="li" font-size="27" fill="#111" stroke="#111" stroke-width="0.3">−</text>
<text x="1227.81" y="844.01" class="li" font-size="27" fill="#111" stroke="#111" stroke-width="0.3">−</text>
<text x="1301.12" y="844.01" class="li" font-size="27" fill="#111" stroke="#111" stroke-width="0.3">−</text>
<text x="1380.54" y="843.97" class="li" font-size="27" fill="#111" stroke="#111" stroke-width="0.3">+</text>
<text transform="translate(1078.95 893.2) scale(0.9245 1)" class="sa" font-size="25.6" >0.00</text>
<text transform="translate(1147.78 893.2) scale(0.8974 1)" class="sa" font-size="25.6" >1.00</text>
<text transform="translate(1224.56 893.2) scale(0.9153 1)" class="sa" font-size="25.6" >0.45</text>
<text transform="translate(1295.95 893.2) scale(0.9312 1)" class="sa" font-size="25.6" >0.38</text>
<text transform="translate(1375.86 893.2) scale(0.9228 1)" class="sa" font-size="25.6" >0.28</text>
<text transform="translate(0 894.4) scale(0.9655 1)" class="sa" font-size="26.2"><tspan x="1498.11">Mean</tspan> <tspan x="1572.51">fold</tspan> <tspan x="1618.94">change</tspan></text>
<text transform="translate(1450.78 930.6) scale(0.9460 1)" class="sa" font-size="26.2" >VP6 (44 kDa)</text>
<text transform="translate(1450.35 985) scale(0.9528 1)" class="sa" font-size="26.2" >GAPDH (37 kDa)</text>
</g>
<g id="blots">
<g clip-path="url(#c1)">
<g filter="url(#nz1)">
<rect x="189.9" y="898.2" width="372.1" height="44.9" fill="#c3c3c3"/>
<g filter="url(#b8)"><ellipse cx="236" cy="917" rx="42" ry="16" fill="#d2d2d2"/><ellipse cx="309" cy="912" rx="26" ry="24" fill="#989898"/><ellipse cx="372" cy="934" rx="50" ry="7" fill="#b0b0b0" transform="rotate(18 372 934)"/><ellipse cx="398" cy="931" rx="13" ry="13" fill="#9c9c9c"/><ellipse cx="455" cy="908" rx="30" ry="9" fill="#d0d0d0"/><ellipse cx="520" cy="915" rx="40" ry="14" fill="#c9c9c9"/><ellipse cx="300" cy="940" rx="12" ry="5" fill="#d8d8d8"/></g>
</g>
<g filter="url(#b1)"><path d="M276 917.9L320.2 918A3 3 0 0 1 320.2 924L276 924.1A3.1 3.1 0 0 1 276 917.9Z" fill="#000"/><path d="M339.7 920.6L386.9 921.5A1.3 1.3 0 0 1 386.9 924.1L339.7 923.4A1.4 1.4 0 0 1 339.7 920.6Z" fill="#2a2a2a"/><path d="M411.5 923.1L440.2 922.4A1.8 1.8 0 0 1 440.2 926L411.5 926.1A1.5 1.5 0 0 1 411.5 923.1Z" fill="#000"/><path d="M438.3 921.9L465.7 921.1A2.5 2.5 0 0 1 465.7 926.1L438.3 926.5A2.3 2.3 0 0 1 438.3 921.9Z" fill="#000"/><path d="M490.5 923.7L544.2 923.3A1.6 1.6 0 0 1 544.2 926.5L490.5 927.1A1.7 1.7 0 0 1 490.5 923.7Z" fill="#141414"/></g>
</g>
<g clip-path="url(#c2)">
<g filter="url(#nz2)">
<rect x="189.9" y="947.8" width="372.1" height="45.9" fill="#bbbbbb"/>
<g filter="url(#b8)"><ellipse cx="300" cy="985" rx="80" ry="8" fill="#b4b4b4"/><ellipse cx="470" cy="955" rx="60" ry="5" fill="#b2b2b2"/></g>
</g>
<g filter="url(#b1)"><path d="M206 959.4L241.8 959.4A5.2 5.2 0 0 1 241.8 969.8L206 969.8A5.2 5.2 0 0 1 206 959.4Z" fill="#000"/><path d="M245.3 958.7L256.1 958.7A5.3 5.3 0 0 1 256.1 969.3L245.3 969.3A5.3 5.3 0 0 1 245.3 958.7Z" fill="#000"/><path d="M280.7 959.9L330.5 959.9A5.4 5.4 0 0 1 330.5 970.7L280.7 970.7A5.4 5.4 0 0 1 280.7 959.9Z" fill="#000"/><path d="M353.9 961.3L403.9 960.5A5.5 5.5 0 0 1 403.9 971.5L353.9 971.9A5.3 5.3 0 0 1 353.9 961.3Z" fill="#000"/><path d="M428.1 961.6L478.6 962A5.4 5.4 0 0 1 478.6 972.8L428.1 972.4A5.4 5.4 0 0 1 428.1 961.6Z" fill="#000"/><path d="M502.3 964.4L544.9 962.7A5.7 5.7 0 0 1 544.9 974.1L502.3 975.6A5.6 5.6 0 0 1 502.3 964.4Z" fill="#000"/></g>
<g filter="url(#b1)"><ellipse cx="358.6" cy="959.4" rx="6.6" ry="6.4" fill="#c9c9c9"/></g>
</g>
<g clip-path="url(#c3)">
<g filter="url(#nz3)">
<rect x="1069.3" y="905" width="372.4" height="48.9" fill="#bbbbbb"/>
<g filter="url(#b8)"><ellipse cx="1100" cy="925" rx="45" ry="30" fill="#a3a3a3"/><ellipse cx="1160" cy="920" rx="30" ry="20" fill="#a8a8a8"/><ellipse cx="1215" cy="930" rx="20" ry="30" fill="#c0c0c0"/><ellipse cx="1260" cy="922" rx="35" ry="10" fill="#aaaaaa"/><ellipse cx="1330" cy="930" rx="40" ry="25" fill="#bcbcbc"/><ellipse cx="1410" cy="920" rx="45" ry="14" fill="#c8c8c8"/><ellipse cx="1400" cy="945" rx="40" ry="8" fill="#b0b0b0"/></g>
</g>
<g filter="url(#b1)"><path d="M1146.8 928.2L1192.6 928.9A2.7 2.7 0 0 1 1192.6 934.3L1146.8 936.6A4.2 4.2 0 0 1 1146.8 928.2Z" fill="#000"/><path d="M1223.2 931.8L1278.2 929.7A2.7 2.7 0 0 1 1278.2 935.1L1223.2 935.4A1.8 1.8 0 0 1 1223.2 931.8Z" fill="#000"/><path d="M1303.6 928.9L1327.5 930.1A2.5 2.5 0 0 1 1327.5 935.1L1303.6 934.3A2.7 2.7 0 0 1 1303.6 928.9Z" fill="#000"/><path d="M1323.7 930.9L1345.2 930.6A1.8 1.8 0 0 1 1345.2 934.2L1323.7 934.3A1.7 1.7 0 0 1 1323.7 930.9Z" fill="#000"/><path d="M1374.6 930.2L1422.8 928.9A1.7 1.7 0 0 1 1422.8 932.3L1374.6 934.6A2.2 2.2 0 0 1 1374.6 930.2Z" fill="#2e2e2e" opacity="0.9"/></g>
</g>
<g clip-path="url(#c4)">
<g filter="url(#nz4)">
<rect x="1070.3" y="954" width="370.2" height="47.6" fill="#cbcbcb"/>
<g filter="url(#b8)"><ellipse cx="1180" cy="992" rx="120" ry="6" fill="#c4c4c4"/></g>
</g>
<g filter="url(#b1)"><path d="M1079.7 979.2L1132.3 978.2A4.2 4.2 0 0 1 1132.3 986.6L1079.7 986.8A3.8 3.8 0 0 1 1079.7 979.2Z" fill="#000"/><path d="M1157.2 978.3L1203.5 976.9A3.9 3.9 0 0 1 1203.5 984.7L1157.2 985.7A3.7 3.7 0 0 1 1157.2 978.3Z" fill="#000"/><path d="M1230.9 976.9L1281.7 973.1A4.7 4.7 0 0 1 1281.7 982.5L1230.9 983.9A3.5 3.5 0 0 1 1230.9 976.9Z" fill="#000"/><path d="M1303 973.5L1349 974.8A4 4 0 0 1 1349 982.8L1303 982.5A4.5 4.5 0 0 1 1303 973.5Z" fill="#000"/><path d="M1372.4 975.4L1420 972.3A4.5 4.5 0 0 1 1420 981.3L1372.4 982.6A3.6 3.6 0 0 1 1372.4 975.4Z" fill="#000"/></g>
<g filter="url(#b1)"><rect x="1436.2" y="956" width="2.4" height="43.6" fill="#dcdcdc"/></g>
</g>
</g>
</svg></body></html>
